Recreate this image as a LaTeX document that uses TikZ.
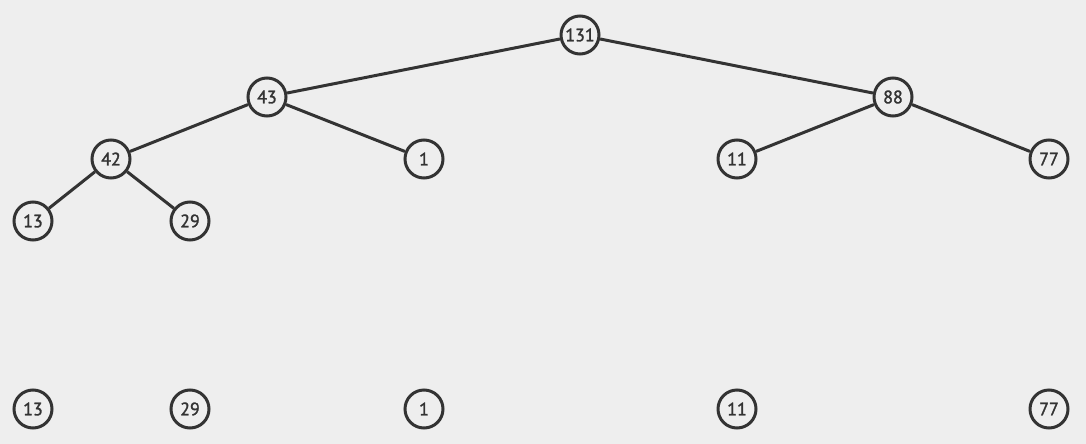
\documentclass[tikz,border=0pt]{standalone}
\usepackage{fontspec}
\setmainfont{PT Sans}
\newfontfamily\nodefont[FakeBold=1.6]{PT Sans}
\definecolor{bg}{HTML}{EEEEEE}
\definecolor{ink}{HTML}{333333}
\begin{document}
\begin{tikzpicture}[x=1pt,y=-1pt,
  hnode/.style={circle,draw=ink,line width=3pt,fill=bg,minimum size=38pt,inner sep=0pt,text=ink,font=\nodefont\fontsize{18}{21}\selectfont},
  edge/.style={draw=ink,line width=3pt}]
\fill[bg] (0,0) rectangle (1086,444);
\useasboundingbox (0,0) rectangle (1086,444);
\node[hnode] (n131) at (580,35) {131};
\node[hnode] (n43) at (267,97) {43};
\node[hnode] (n88) at (893,97) {88};
\node[hnode] (n42) at (111,159) {42};
\node[hnode] (n1) at (424,159) {1};
\node[hnode] (n11) at (737,159) {11};
\node[hnode] (n77) at (1049,159) {77};
\node[hnode] (n13) at (33,221) {13};
\node[hnode] (n29) at (190,221) {29};
\node[hnode] (b13) at (33,409) {13};
\node[hnode] (b29) at (190,409) {29};
\node[hnode] (b1) at (424,409) {1};
\node[hnode] (b11) at (737,409) {11};
\node[hnode] (b77) at (1049,409) {77};
\draw[edge] (n131) -- (n43);
\draw[edge] (n131) -- (n88);
\draw[edge] (n43) -- (n42);
\draw[edge] (n43) -- (n1);
\draw[edge] (n88) -- (n11);
\draw[edge] (n88) -- (n77);
\draw[edge] (n42) -- (n13);
\draw[edge] (n42) -- (n29);
\end{tikzpicture}
\end{document}
